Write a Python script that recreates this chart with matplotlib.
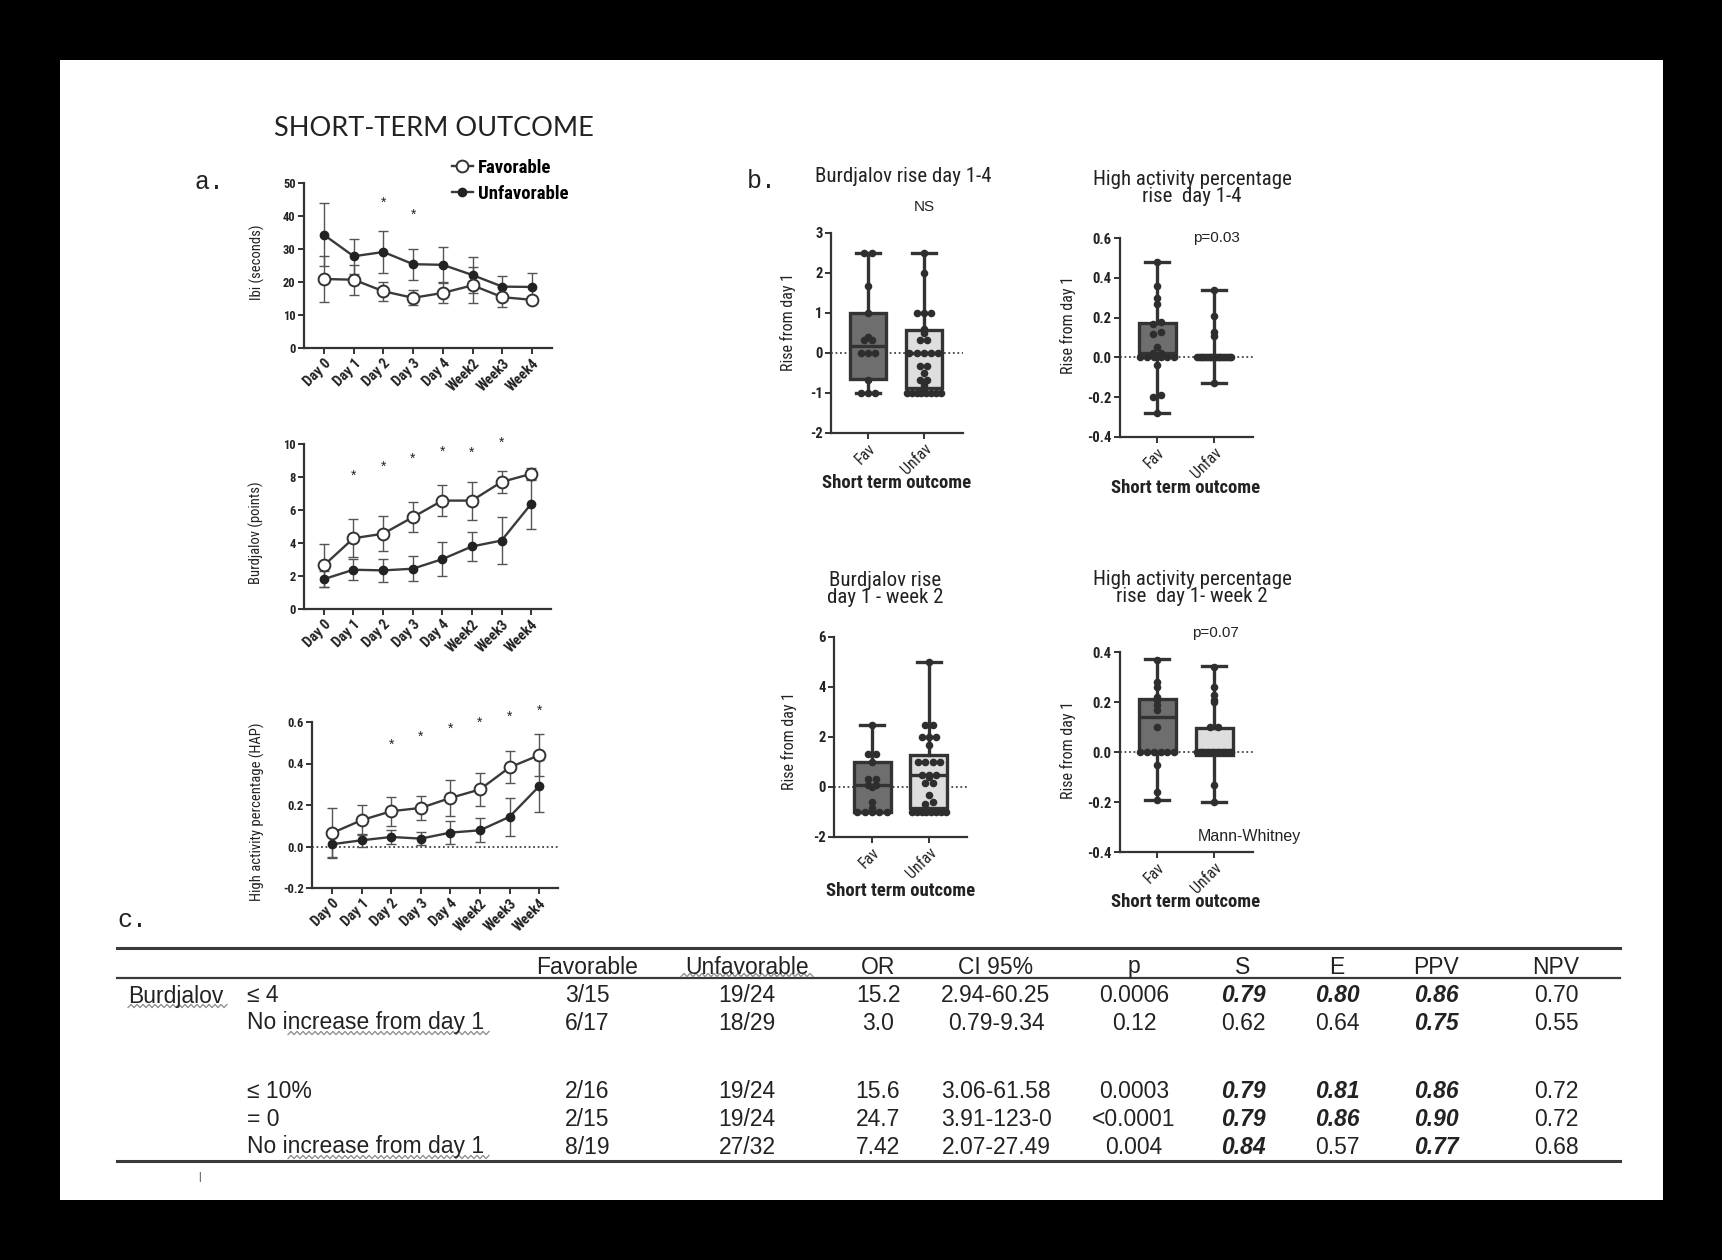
import matplotlib
matplotlib.use('Agg')
import matplotlib.pyplot as plt
import numpy as np
from matplotlib.patches import Rectangle
from matplotlib.lines import Line2D
from matplotlib import font_manager

plt.rcParams['axes.unicode_minus'] = False

names = {f.name for f in font_manager.fontManager.ttflist}
NARROW = dict(family='DejaVu Sans', stretch='condensed')
for cand in ['Liberation Sans Narrow', 'Arimo Narrow', 'Roboto Condensed', 'Archivo Narrow']:
    if cand in names:
        NARROW = dict(family=cand)
        break
ARIAL = dict(family='Liberation Sans')
MONO = dict(family='Liberation Mono')

# ---- data: panel a (mean +/- error) ----
days = ['Day 0', 'Day 1', 'Day 2', 'Day 3', 'Day 4', 'Week2', 'Week3', 'Week4']

ibi_fav = [20.9, 20.7, 17.2, 15.2, 16.7, 19.0, 15.4, 14.6]
ibi_fav_err = [7.0, 4.5, 2.9, 2.3, 3.2, 5.4, 3.0, 1.0]
ibi_unf = [34.3, 27.8, 29.1, 25.4, 25.2, 22.1, 18.6, 18.5]
ibi_unf_err = [9.6, 5.3, 6.4, 4.7, 5.5, 5.4, 3.3, 4.3]
ibi_star_idx = [2, 3]
ibi_star_y = [44.0, 40.5]

burd_fav = [2.64, 4.29, 4.56, 5.56, 6.57, 6.57, 7.70, 8.19]
burd_fav_err = [1.3, 1.15, 1.05, 0.9, 0.92, 1.15, 0.67, 0.35]
burd_unf = [1.81, 2.38, 2.34, 2.44, 3.02, 3.79, 4.15, 6.37]
burd_unf_err = [0.5, 0.65, 0.7, 0.75, 1.02, 0.9, 1.4, 1.5]
burd_star_idx = [1, 2, 3, 4, 5, 6]
burd_star_y = [8.1, 8.6, 9.1, 9.5, 9.45, 10.1]

hap_fav = [0.065, 0.127, 0.17, 0.186, 0.234, 0.275, 0.381, 0.44]
hap_fav_err = [0.12, 0.073, 0.07, 0.058, 0.087, 0.078, 0.077, 0.1]
hap_unf = [0.011, 0.03, 0.046, 0.038, 0.067, 0.078, 0.143, 0.29]
hap_unf_err = [0.06, 0.03, 0.035, 0.03, 0.056, 0.057, 0.09, 0.126]
hap_star_idx = [2, 3, 4, 5, 6, 7]
hap_star_y = [0.489, 0.529, 0.566, 0.594, 0.626, 0.653]

# ---- data: panel b (box stats: whislo, q1, med, q3, whishi) ----
groups = ['Fav', 'Unfav']

b1_stats = [(-1.0, -0.65, 0.18, 1.0, 2.5), (-1.0, -0.87, 0.0, 0.57, 2.5)]
b1_fav_pts = [2.5, 2.5, 1.67, 1.0, 0.4, 0.33, 0.33, 0.0, 0.0, 0.0, -0.67, -1.0, -1.0, -1.0]
b1_unf_pts = [2.5, 2.0, 1.0, 1.0, 1.0, 0.6, 0.5, 0.33, 0.33, 0, 0, 0, 0, 0,
              -0.33, -0.33, -0.5, -0.67, -0.67, -0.8, -1, -1, -1, -1, -1, -1, -1, -1]

b2_stats = [(-0.28, 0.0, 0.02, 0.175, 0.48), (-0.13, 0.0, 0.0, 0.0, 0.34)]
b2_fav_pts = [0.48, 0.36, 0.30, 0.27, 0.18, 0.17, 0.13, 0.12, 0.05, 0.02, 0.02,
              0, 0, 0, 0, 0, 0, -0.04, -0.19, -0.2, -0.28]
b2_unf_pts = [0.34, 0.21, 0.13, 0.11] + [0.0] * 20 + [-0.13]

b3_stats = [(-1.0, -1.0, 0.1, 1.0, 2.5), (-1.0, -0.85, 0.5, 1.3, 5.0)]
b3_fav_pts = [2.5, 1.33, 1.33, 1.0, 0.33, 0.33, 0.1, 0.1, 0.0, -0.6, -0.85, -1, -1, -1, -1, -1]
b3_unf_pts = [5, 2.5, 2.5, 2, 2, 2, 1.67, 1, 1, 1, 1, 0.5, 0.5, 0.5, 0.4, 0.15, 0.15,
              -0.33, -0.6, -0.67, -1, -1, -1, -1, -1, -1, -1, -1]

b4_stats = [(-0.19, 0.0, 0.139, 0.213, 0.373), (-0.2, -0.01, 0.0, 0.096, 0.343)]
b4_fav_pts = [0.37, 0.28, 0.26, 0.22, 0.21, 0.19, 0.17, 0.10, 0, 0, 0, 0, 0, 0, -0.05, -0.16, -0.19]
b4_unf_pts = [0.34, 0.26, 0.23, 0.21, 0.20, 0.10, 0.10] + [0.0] * 15 + [-0.13, -0.2]

# ---- data: panel c table ----
tab_header = ['Favorable', 'Unfavorable', 'OR', 'CI 95%', 'p', 'S', 'E', 'PPV', 'NPV']
tab_group = ['Burdjalov', '', '', '', '']
tab_labels = ['\u2264 4', 'No increase from day 1', '\u2264 10%', '= 0', 'No increase from day 1']
tab_rows = [
    ['3/15', '19/24', '15.2', '2.94-60.25', '0.0006', '0.79', '0.80', '0.86', '0.70'],
    ['6/17', '18/29', '3.0', '0.79-9.34', '0.12', '0.62', '0.64', '0.75', '0.55'],
    ['2/16', '19/24', '15.6', '3.06-61.58', '0.0003', '0.79', '0.81', '0.86', '0.72'],
    ['2/15', '19/24', '24.7', '3.91-123-0', '<0.0001', '0.79', '0.86', '0.90', '0.72'],
    ['8/19', '27/32', '7.42', '2.07-27.49', '0.004', '0.84', '0.57', '0.77', '0.68'],
]
tab_bold = [
    [0, 0, 0, 0, 0, 1, 1, 1, 0],
    [0, 0, 0, 0, 0, 0, 0, 1, 0],
    [0, 0, 0, 0, 0, 1, 1, 1, 0],
    [0, 0, 0, 0, 0, 1, 1, 1, 0],
    [0, 0, 0, 0, 0, 1, 0, 1, 0],
]

W, H = 1722, 1260
DARK = '#333333'
TXT = '#222222'

fig = plt.figure(figsize=(W / 100, H / 100), dpi=100, facecolor='black')
fig.add_artist(Rectangle((60 / W, 1 - 1200 / H), (1663 - 60) / W, (1200 - 60) / H,
                         transform=fig.transFigure, facecolor='white', edgecolor='none', zorder=-10))


def rect(l, t, r, b):
    return [l / W, 1 - b / H, (r - l) / W, (b - t) / H]


def ftext(x, y, s, **kw):
    kw.setdefault('color', TXT)
    fig.text(x / W, 1 - y / H, s, **kw)


def squiggle(x0, x1, y, amp=1.6, step=3.0):
    # spell-check style wavy underline (pixel coords)
    xs = np.arange(x0, x1 + step, step)
    ys = y + amp * np.where(np.arange(len(xs)) % 2 == 0, 1, -1)
    fig.add_artist(Line2D(xs / W, 1 - ys / H, color='#8a8a8a', lw=0.9, transform=fig.transFigure))


def style_axes(ax):
    for s in ['top', 'right']:
        ax.spines[s].set_visible(False)
    for s in ['left', 'bottom']:
        ax.spines[s].set_linewidth(1.6)
        ax.spines[s].set_color(DARK)
    ax.tick_params(direction='out', length=4, width=1.4, color=DARK, pad=2)


def line_panel(r, fav, fav_err, unf, unf_err, star_idx, star_y, ylim, yticks, fmt, xlim):
    ax = fig.add_axes(rect(*r))
    style_axes(ax)
    x = np.arange(len(days))
    ax.errorbar(x, unf, yerr=unf_err, fmt='none', ecolor='#555555', elinewidth=1.0,
                capsize=3.5, capthick=1.0, zorder=2, clip_on=False)
    ax.errorbar(x, fav, yerr=fav_err, fmt='none', ecolor='#555555', elinewidth=1.0,
                capsize=3.5, capthick=1.0, zorder=2, clip_on=False)
    ax.plot(x, unf, '-o', color='#3a3a3a', lw=1.7, ms=6, mfc='#222222', mec='#222222',
            zorder=3, clip_on=False, label='Unfavorable')
    ax.plot(x, fav, '-o', color='#3a3a3a', lw=1.7, ms=8.5, mfc='white', mec='#333333',
            mew=1.4, zorder=4, clip_on=False, label='Favorable')
    for i, yv in zip(star_idx, star_y):
        ax.text(i, yv, '*', ha='center', va='center', fontsize=10, color=TXT, **ARIAL)
    ax.set_xlim(*xlim)
    ax.set_ylim(*ylim)
    ax.set_yticks(yticks)
    ax.set_yticklabels([fmt % v for v in yticks], fontsize=9, fontweight='bold', color=TXT, **NARROW)
    ax.set_xticks(x)
    ax.set_xticklabels(days, rotation=45, ha='right', rotation_mode='anchor',
                       fontsize=10.5, fontweight='bold', color=TXT, **NARROW)
    return ax


ax1 = line_panel((304, 183, 552, 348), ibi_fav, ibi_fav_err, ibi_unf, ibi_unf_err,
                 ibi_star_idx, ibi_star_y, (0, 50), [0, 10, 20, 30, 40, 50], '%d', (-0.67, 7.67))
ax2 = line_panel((304, 444, 551, 609), burd_fav, burd_fav_err, burd_unf, burd_unf_err,
                 burd_star_idx, burd_star_y, (0, 10), [0, 2, 4, 6, 8, 10], '%d', (-0.67, 7.67))
ax3 = line_panel((312, 722, 558, 888), hap_fav, hap_fav_err, hap_unf, hap_unf_err,
                 hap_star_idx, hap_star_y, (-0.2, 0.6), [-0.2, 0.0, 0.2, 0.4, 0.6], '%.1f', (-0.68, 7.64))
ax3.axhline(0, ls=(0, (1, 1.5)), color='#444444', lw=1.3, zorder=1)

ftext(257, 262, 'Ibi (seconds)', rotation=90, ha='center', va='center', fontsize=10.5, **NARROW)
ftext(256, 533, 'Burdjalov (points)', rotation=90, ha='center', va='center', fontsize=10.5, **NARROW)
ftext(257, 812, 'High activity percentage (HAP)', rotation=90, ha='center', va='center', fontsize=10.5, **NARROW)

# legend
h_fav = Line2D([], [], color='#3a3a3a', lw=1.7, marker='o', ms=8.5, mfc='white', mec='#333333', mew=1.4)
h_unf = Line2D([], [], color='#3a3a3a', lw=1.7, marker='o', ms=6, mfc='#222222', mec='#222222')
fig.legend([h_fav, h_unf], ['Favorable', 'Unfavorable'], loc='upper left',
           bbox_to_anchor=(452 / W, 1 - 159 / H), frameon=False, borderpad=0, borderaxespad=0,
           handlelength=1.1, handletextpad=0.3, labelspacing=0.42,
           prop=dict(size=13.5, weight='bold', **NARROW))


# ---- panel b ----
def swarm(vals, tol, dx=0.13, maxw=0.3):
    vals = np.asarray(vals, float)
    order = np.argsort(vals)
    offs = np.zeros(len(vals))
    grp = [order[0]]
    groups_ = []
    for k in order[1:]:
        if abs(vals[k] - vals[grp[-1]]) <= tol:
            grp.append(k)
        else:
            groups_.append(grp)
            grp = [k]
    groups_.append(grp)
    for g in groups_:
        n = len(g)
        half = min((n - 1) / 2 * dx, maxw)
        if n > 1:
            offs[g] = np.linspace(-half, half, n)
    return offs


def box_panel(r, stats, fav_pts, unf_pts, ylim, yticks, fmt, xlim):
    ax = fig.add_axes(rect(*r))
    style_axes(ax)
    bs = []
    for lab, (lo, q1, med, q3, hi) in zip(groups, stats):
        bs.append(dict(label=lab, whislo=lo, q1=q1, med=med, q3=q3, whishi=hi, fliers=[]))
    art = ax.bxp(bs, positions=[0, 1], widths=0.65, patch_artist=True, showfliers=False,
                 capwidths=0.42,
                 boxprops=dict(linewidth=2.4, edgecolor=DARK),
                 whiskerprops=dict(linewidth=2.4, color=DARK),
                 capprops=dict(linewidth=2.4, color=DARK),
                 medianprops=dict(linewidth=2.4, color=DARK))
    for patch, fc in zip(art['boxes'], ['#6e6e6e', '#dedede']):
        patch.set_facecolor(fc)
    ax.axhline(0, ls=(0, (1, 1.5)), color='#444444', lw=1.3, zorder=1)
    span = ylim[1] - ylim[0]
    for pos, pts in zip([0, 1], [fav_pts, unf_pts]):
        offs = swarm(pts, span * 0.012)
        ax.scatter(pos + offs, pts, s=30, color='#2e2e2e', zorder=5, clip_on=False, linewidths=0)
    ax.set_xlim(*xlim)
    ax.set_ylim(*ylim)
    ax.set_yticks(yticks)
    ax.set_yticklabels([fmt % v for v in yticks], fontsize=10.5, fontweight='bold', color=TXT, **NARROW)
    ax.set_xticks([0, 1])
    ax.set_xticklabels(groups, rotation=45, ha='right', rotation_mode='anchor',
                       fontsize=11.5, color=TXT, **NARROW)
    return ax


box_panel((831, 233, 963, 433), b1_stats, b1_fav_pts, b1_unf_pts, (-2, 3), [-2, -1, 0, 1, 2, 3], '%d', (-0.66, 1.7))
box_panel((1120, 238, 1253, 437), b2_stats, b2_fav_pts, b2_unf_pts, (-0.4, 0.6),
          [-0.4, -0.2, 0.0, 0.2, 0.4, 0.6], '%.1f', (-0.65, 1.68))
box_panel((834, 637, 967, 837), b3_stats, b3_fav_pts, b3_unf_pts, (-2, 6), [-2, 0, 2, 4, 6], '%d', (-0.67, 1.67))
box_panel((1120, 652, 1253, 852), b4_stats, b4_fav_pts, b4_unf_pts, (-0.4, 0.4),
          [-0.4, -0.2, 0.0, 0.2, 0.4], '%.1f', (-0.65, 1.68))

for x, y in [(788, 322), (1068, 325), (789, 741), (1068, 750)]:
    ftext(x, y, 'Rise from day 1', rotation=90, ha='center', va='center', fontsize=11.5, **NARROW)
for x, y in [(897, 483), (1186, 488), (901, 891), (1186, 902)]:
    ftext(x, y, 'Short term outcome', ha='center', va='center', fontsize=13.5, fontweight='bold', **NARROW)

ftext(903, 176, 'Burdjalov rise day 1-4', ha='center', va='center', fontsize=15, **NARROW)
ftext(1192, 188, 'High activity percentage\nrise  day 1-4', ha='center', va='center',
      fontsize=15, linespacing=0.85, **NARROW)
ftext(885, 589, 'Burdjalov rise\nday 1 - week 2', ha='center', va='center',
      fontsize=15, linespacing=0.85, **NARROW)
ftext(1192, 588, 'High activity percentage\nrise  day 1- week 2', ha='center', va='center',
      fontsize=15, linespacing=0.85, **NARROW)
ftext(924, 207, 'NS', ha='center', va='center', fontsize=11, **ARIAL)
ftext(1216, 238, 'p=0.03', ha='center', va='center', fontsize=11, **ARIAL)
ftext(1215, 633, 'p=0.07', ha='center', va='center', fontsize=11, **ARIAL)
ftext(1249, 837, 'Mann-Whitney', ha='center', va='center', fontsize=11.5, **ARIAL)

# ---- titles and panel letters ----
ftext(274, 128, 'SHORT-TERM OUTCOME', ha='left', va='center', fontsize=19.5, family='Lato')
ftext(195, 182, 'a.', ha='left', va='center', fontsize=18, **MONO)
ftext(747, 181, 'b.', ha='left', va='center', fontsize=18, **MONO)
ftext(117, 920, 'c.', ha='left', va='center', fontsize=18, **MONO)

# ---- panel c table ----
col_x = [587, 747, 878, 996, 1134, 1243, 1337, 1436, 1556]
header_y = 967
row_y = [996, 1023, 1091, 1119, 1147]
for y, lw in [(948, 2.2), (978, 1.6), (1161, 2.2)]:
    fig.add_artist(Line2D([117 / W, 1620 / W], [1 - y / H] * 2, color='#3a3a3a', lw=lw,
                          transform=fig.transFigure))
for x, h in zip(col_x, tab_header):
    ftext(x, header_y, h, ha='center', va='center', fontsize=16.5, **ARIAL)
for i, y in enumerate(row_y):
    if tab_group[i]:
        ftext(128, y, tab_group[i], ha='left', va='center', fontsize=16.5, **ARIAL)
    ftext(247, y, tab_labels[i], ha='left', va='center', fontsize=16.5, **ARIAL)
    for x, v, b in zip(col_x, tab_rows[i], tab_bold[i]):
        if b:
            ftext(x, y, v, ha='center', va='center', fontsize=16.5, fontweight='bold',
                  fontstyle='italic', **ARIAL)
        else:
            ftext(x, y, v, ha='center', va='center', fontsize=16.5, **ARIAL)
ftext(199, 1177, '|', ha='center', va='center', fontsize=7, **ARIAL)

# spell-check underlines visible in the source
squiggle(128, 227, 1006)
squiggle(288, 489, 1033)
squiggle(288, 489, 1157)
squiggle(681, 812, 975)

fig.savefig('out.png', dpi=100, facecolor=fig.get_facecolor())
